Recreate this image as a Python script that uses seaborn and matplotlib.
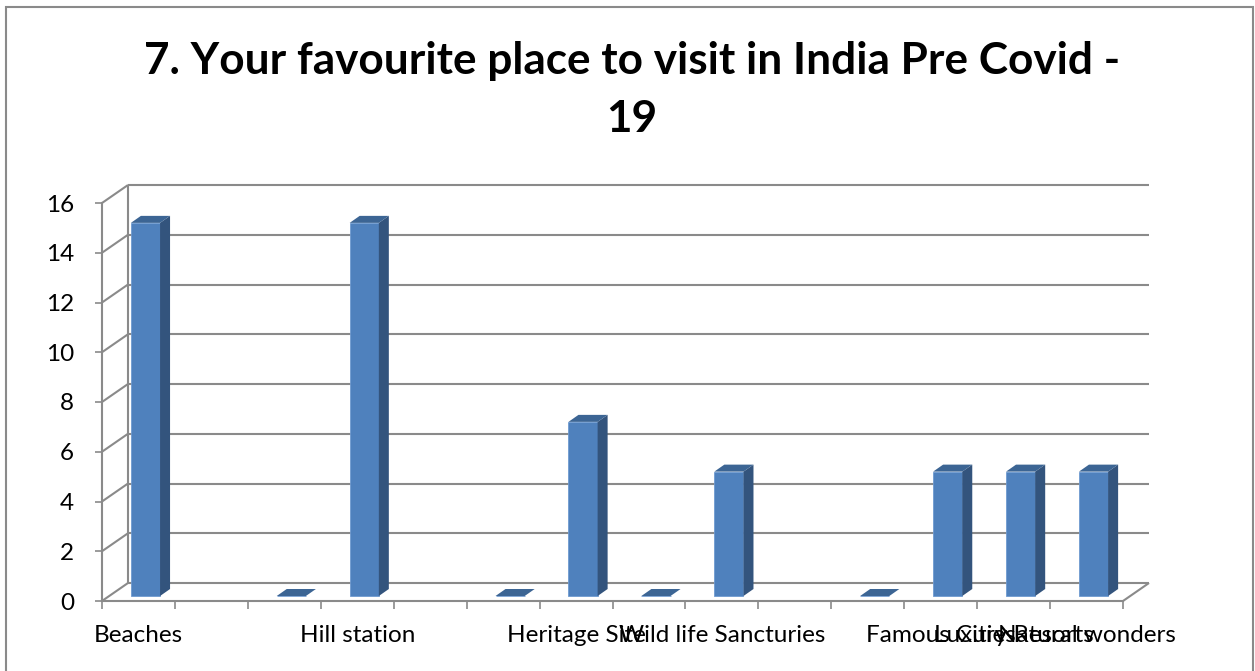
import numpy as np
import pandas as pd
import matplotlib
matplotlib.use("Agg")
import matplotlib.pyplot as plt
from matplotlib.patches import Polygon, Rectangle
from matplotlib.transforms import offset_copy
from matplotlib.ticker import FixedLocator
import seaborn as sns

# Survey answers: one slot per answer column, blank slots carry no label
slot_labels = ["Beaches", "", "", "Hill station", "", "", "Heritage Site", "",
               "Wild life Sancturies", "", "", "Famous Cities", "Luxury Resorts",
               "Natural wonders"]
counts = [15, None, 0, 15, None, 0, 7, 0, 5, None, 0, 5, 5, 5]
y_ticks = [0, 2, 4, 6, 8, 10, 12, 14, 16]
title = "7. Your favourite place to visit in India Pre Covid -\n19"

FRONT = "#4F81BD"
SIDE = "#33547D"
TOP = "#3C6594"
GRID = "#8A8A8A"

sns.set_style("white")
plt.rcParams["font.family"] = ["Lato", "DejaVu Sans"]

W, H = 1255, 671
fig = plt.figure(figsize=(W / 100, H / 100), dpi=100)

# front plane of the 3-D box, in pixels
x_left, x_right = 102, 1123
y_zero, y_top = 601, 203
ax = fig.add_axes([x_left / W, (H - y_zero) / H,
                   (x_right - x_left) / W, (y_zero - y_top) / H])

n = len(slot_labels)
df = pd.DataFrame({"slot": list(range(n)), "count": counts}).dropna()
sns.barplot(data=df, x="slot", y="count", order=list(range(n)), width=0.4,
            color=FRONT, saturation=1, errorbar=None, ax=ax, zorder=3,
            edgecolor="#6F9AD0", linewidth=0.6)

ax.set_xlim(-0.5, n - 0.5)
ax.set_ylim(0, 16)
ax.set_xlabel("")
ax.set_ylabel("")

# pixel -> data-unit conversion for the oblique depth
def depth(dx, dy):
    ox, oy = ax.transData.transform((0, 0))
    px, py = ax.transData.inverted().transform((ox + dx, oy + dy))
    return px, py

wall_dx, wall_dy = depth(26, 18)   # depth of floor / side wall
bar_dx, bar_dy = depth(10, 7)      # bar thickness

line_kw = dict(color=GRID, lw=1.5, clip_on=False, zorder=1,
               solid_capstyle="butt")

# back wall gridlines and side-wall diagonals
for t in y_ticks:
    ax.plot([-0.5 + wall_dx, n - 0.5 + wall_dx], [t + wall_dy, t + wall_dy], **line_kw)
    ax.plot([-0.5, -0.5 + wall_dx], [t, t + wall_dy], **line_kw)
ax.plot([-0.5 + wall_dx, -0.5 + wall_dx], [wall_dy, 16 + wall_dy], **line_kw)
# right edge of the floor
ax.plot([n - 0.5, n - 0.5 + wall_dx], [0, wall_dy], **line_kw)

# bars: shift the fronts and add side and top faces
bar_tr = offset_copy(ax.transData, fig=fig, x=7, y=5, units="dots")
for p in list(ax.patches):
    x0, w, h = p.get_x(), p.get_width(), p.get_height()
    p.set_transform(bar_tr)
    x1 = x0 + w
    side = [(x1, 0), (x1, h), (x1 + bar_dx, h + bar_dy), (x1 + bar_dx, bar_dy)]
    top = [(x0, h), (x1, h), (x1 + bar_dx, h + bar_dy), (x0 + bar_dx, h + bar_dy)]
    if h > 0:
        ax.add_patch(Polygon(side, closed=True, facecolor=SIDE, edgecolor="none",
                             transform=bar_tr, clip_on=False, zorder=3))
    ax.add_patch(Polygon(top, closed=True, facecolor=TOP, edgecolor="none",
                         transform=bar_tr, clip_on=False, zorder=3))

# axes: front floor line and front value axis
for s in ["top", "right"]:
    ax.spines[s].set_visible(False)
for s in ["left", "bottom"]:
    ax.spines[s].set_color(GRID)
    ax.spines[s].set_linewidth(1.5)
    ax.spines[s].set_zorder(4)

ax.set_yticks(y_ticks)
ax.set_yticklabels([str(t) for t in y_ticks])
ax.tick_params(axis="y", direction="out", length=5, width=1.2, color=GRID,
               pad=15, labelsize=17.5, labelcolor="black", left=True)

ax.set_xticks(range(n))
ax.set_xticklabels(slot_labels)
ax.xaxis.set_minor_locator(FixedLocator(np.arange(-0.5, n, 1.0)))
ax.tick_params(axis="x", which="major", length=0, pad=17.5, labelsize=17.5,
               labelcolor="black")
ax.tick_params(axis="x", which="minor", direction="out", length=6, width=1.2,
               color=GRID, bottom=True)
ax.set_facecolor("none")
ax.grid(False)

fig.text(632 / W, 1 - 90 / H, title, ha="center", va="center", color="black",
         fontsize=31.8, fontweight="bold", linespacing=1.55)

# chart frame
fig.patches.append(Rectangle((6 / W, -0.05), (1253 - 6) / W, 1 - 7 / H + 0.05,
                             transform=fig.transFigure, fill=False,
                             edgecolor=GRID, lw=1.5, zorder=0))

fig.savefig("out.png", dpi=100, facecolor="white")
